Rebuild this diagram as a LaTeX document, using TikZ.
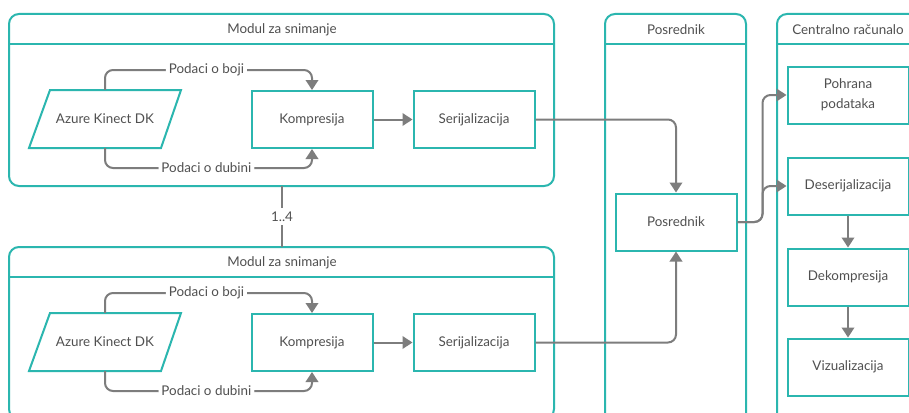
\documentclass[tikz,border=0pt]{standalone}
\usepackage{fontspec}
\setmainfont{Lato}
\usetikzlibrary{arrows.meta,calc}
\definecolor{tl}{RGB}{43,182,175}
\definecolor{ar}{RGB}{125,125,125}
\definecolor{tx}{RGB}{80,80,80}
\tikzset{
  txt/.style={text=tx,font=\fontsize{13.4}{16}\selectfont},
  box/.style={txt,draw=tl,line width=2pt,minimum width=121pt,minimum height=57pt,inner sep=0pt,align=center},
  conn/.style={draw=ar,line width=2pt,rounded corners=8pt,-{Triangle[length=10pt,width=12.5pt]}},
  plain/.style={draw=ar,line width=2pt},
  lane/.style={draw=tl,line width=2pt,rounded corners=10pt},
  hdr/.style={draw=tl,line width=2pt},
  lbl/.style={txt,fill=white,inner sep=3pt},
}
\begin{document}
\begin{tikzpicture}[x=1pt,y=-1pt]
\useasboundingbox (0,0) rectangle (909,412);
\clip (0,0) rectangle (909,412);
\fill[white] (0,0) rectangle (909,412);
% module frames
\foreach \dy in {0,233}{
\begin{scope}[shift={(0,\dy)}]
  \draw[lane] (9,14) rectangle (554,186);
  \draw[hdr] (9,44) -- (554,44);
\end{scope}
}
\node[txt] (mt1) at (282,30) {Modul za snimanje};
\node[txt] (mt2) at (282,263) {Modul za snimanje};
% module contents
\foreach \i/\dy in {1/0,2/223}{
\begin{scope}[shift={(0,\dy)}]
  \draw[tl,line width=2pt,line join=miter] (50,90) -- (181,90) -- (161,148) -- (29,148) -- cycle;
  \node[txt,minimum width=152pt,minimum height=58pt,inner sep=0pt] (az\i) at (105,119) {Azure Kinect DK};
  \node[box] (k\i) at (312,119.5) {Kompresija};
  \node[box] (s\i) at (474,119.5) {Serijalizacija};
  \coordinate (b1\i) at (105,70);
  \coordinate (b2\i) at (312,70);
  \coordinate (d1\i) at (105,168);
  \coordinate (d2\i) at (312,168);
  \draw[conn] (az\i.north) -- (b1\i) -- node[lbl,pos=0.49]{Podaci o boji} (b2\i) -- (k\i.north);
  \draw[conn] (az\i.south) -- (d1\i) -- node[lbl,pos=0.49]{Podaci o dubini} (d2\i) -- (k\i.south);
  \draw[conn] (k\i.east) -- (s\i.west);
\end{scope}
}
\coordinate (m1) at (282,186);
\coordinate (m2) at (282,247);
\draw[plain] (m1) -- node[lbl,inner sep=4pt]{1..4} (m2);
% posrednik lane
\draw[lane] (605,14) rectangle (746,460);
\draw[hdr] (605,44) -- (746,44);
\node[txt] (pt) at (676,30) {Posrednik};
\node[box] (pos) at (676,222) {Posrednik};
% centralno lane
\draw[lane] (777,14) rectangle (919,460);
\draw[hdr] (777,44) -- (919,44);
\node[txt] (ct) at (848,30) {Centralno računalo};
\node[box] (poh) at (848,95) {Pohrana\\[4pt]podataka};
\node[box] (des) at (848,186) {Deserijalizacija};
\node[box] (dek) at (848,277) {Dekompresija};
\node[box] (viz) at (848,367) {Vizualizacija};
% connectors
\draw[conn] (s1.east) -| (pos.north);
\draw[conn] (s2.east) -| (pos.south);
\draw[conn] (pos.east) -- ++(25,0) |- (poh.west);
\draw[conn] (pos.east) -- ++(25,0) |- (des.west);
\draw[conn] (des.south) -- (dek.north);
\draw[conn] (dek.south) -- (viz.north);
\end{tikzpicture}
\end{document}
